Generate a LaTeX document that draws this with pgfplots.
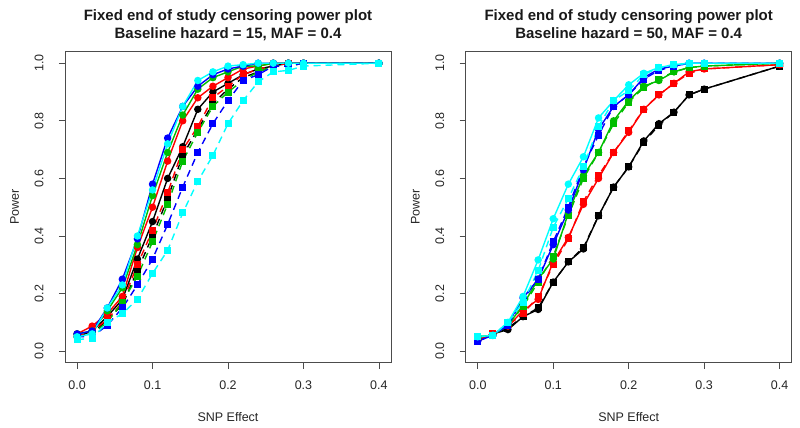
\documentclass[border=0pt]{standalone}
\usepackage{fontspec}
\setmainfont{Liberation Sans}
\usepackage{pgfplots}
\usepackage{pgfplotstable}
\pgfplotsset{compat=1.18}
\definecolor{rgreen}{RGB}{0,190,0}
\definecolor{rblue}{RGB}{0,0,255}
\definecolor{rcyan}{RGB}{0,255,255}
\definecolor{rred}{RGB}{255,0,0}

\pgfplotstableread{
x    ks    kd    rs    rd    gs    gd    bs    bd    cs    cd
0    0.05  0.05  0.06  0.05  0.06  0.05  0.06  0.05  0.05  0.04
0.02 0.07  0.06  0.087 0.07  0.07  0.06  0.07  0.05  0.06  0.045
0.04 0.12  0.11  0.13  0.11  0.14  0.10  0.15  0.09  0.15  0.10
0.06 0.18  0.16  0.19  0.17  0.22  0.17  0.25  0.15  0.23  0.13
0.08 0.32  0.28  0.36  0.30  0.37  0.26  0.39  0.23  0.40  0.18
0.10 0.45  0.40  0.50  0.42  0.54  0.38  0.58  0.32  0.56  0.27
0.12 0.60  0.53  0.66  0.55  0.69  0.51  0.74  0.44  0.72  0.35
0.14 0.71  0.68  0.80  0.70  0.82  0.66  0.85  0.57  0.85  0.48
0.16 0.84  0.77  0.88  0.78  0.91  0.76  0.92  0.69  0.94  0.59
0.18 0.90  0.86  0.92  0.88  0.95  0.85  0.96  0.79  0.97  0.68
0.20 0.93  0.91  0.95  0.92  0.97  0.90  0.98  0.87  0.99  0.79
0.22 0.96  0.95  0.98  0.96  0.99  0.94  0.99  0.94  0.995 0.87
0.24 0.98  0.97  0.99  0.98  0.99  0.97  1     0.96  1     0.935
0.26 0.99  0.99  1     0.99  1     0.99  1     0.99  1     0.97
0.28 1     1     1     1     1     0.99  1     0.99  1     0.975
0.30 1     1     1     1     1     1     1     1     1     0.99
0.40 1     1     1     1     1     1     1     1     1     1
}\lefttab

\pgfplotstableread{
x    ks    kd    rs    rd    gs    gd    bs    bd    cs    cd
0    0.04  0.04  0.04  0.04  0.05  0.05  0.035 0.035 0.05  0.05
0.02 0.06  0.06  0.06  0.06  0.055 0.055 0.055 0.055 0.055 0.055
0.04 0.075 0.08  0.087 0.09  0.09  0.09  0.095 0.09  0.10  0.10
0.06 0.12  0.12  0.14  0.13  0.16  0.155 0.185 0.18  0.19  0.17
0.08 0.145 0.15  0.18  0.19  0.25  0.24  0.25  0.25  0.317 0.28
0.10 0.24  0.24  0.31  0.30  0.32  0.33  0.37  0.38  0.46  0.43
0.12 0.31  0.31  0.395 0.39  0.48  0.47  0.49  0.50  0.58  0.53
0.14 0.355 0.36  0.51  0.52  0.61  0.60  0.63  0.64  0.675 0.64
0.16 0.47  0.47  0.60  0.61  0.69  0.69  0.77  0.75  0.81  0.78
0.18 0.57  0.57  0.69  0.69  0.80  0.79  0.85  0.85  0.87  0.87
0.20 0.64  0.64  0.76  0.765 0.87  0.865 0.89  0.89  0.925 0.905
0.22 0.73  0.725 0.84  0.84  0.92  0.915 0.95  0.945 0.965 0.96
0.24 0.79  0.785 0.89  0.89  0.94  0.945 0.98  0.975 0.985 0.985
0.26 0.83  0.83  0.93  0.93  0.97  0.97  0.99  0.99  0.995 0.995
0.28 0.89  0.89  0.97  0.965 0.985 0.985 1     1     1     1
0.30 0.91  0.91  0.98  0.98  0.99  0.99  1     1     1     1
0.40 0.99  0.99  0.995 0.995 1     1     1     1     1     1
}\righttab

\pgfplotsset{
  rpanel/.style={
    scale only axis, width=326pt, height=311pt,
    xmin=-0.016, xmax=0.416, ymin=-0.04, ymax=1.04,
    xtick={0,0.1,0.2,0.3,0.4}, ytick={0,0.2,0.4,0.6,0.8,1.0},
    tick align=outside, major tick length=6pt,
    xtick pos=bottom, ytick pos=left,
    axis line style={black!70, line width=0.8pt},
    every tick/.style={black!70, line width=0.8pt},
    /pgf/number format/.cd, fixed, fixed zerofill, precision=1, assume math mode=true,
    /pgfplots/.cd,
    ticklabel style={font=\fontsize{12.5}{14}\selectfont, text=black!85},
    xticklabel style={yshift=-9pt},
    yticklabel style={rotate=90, anchor=south, yshift=12pt},
    xlabel={SNP Effect}, ylabel={Power},
    label style={font=\fontsize{12.5}{14}\selectfont, text=black!85},
    xlabel style={at={(0.5,0)}, anchor=base, yshift=-59pt},
    ylabel style={at={(0,0.5)}, anchor=base, rotate=0, xshift=0pt, yshift=46pt},
    title style={font=\bfseries\fontsize{15}{17.5}\selectfont, align=center, anchor=south, inner sep=0pt, yshift=5pt, text=black!90},
    clip=false,
  },
  sol/.style={solid, line width=1.4pt, mark=*, mark size=3pt, mark options={solid}},
  das/.style={dash pattern=on 7pt off 5pt, line width=1.4pt, mark=square*, mark size=2.8pt, mark options={solid}},
}

\begin{document}
\begin{tikzpicture}
\useasboundingbox (0pt,0pt) rectangle (800pt,428pt);
\begin{axis}[rpanel, at={(65pt,65.3pt)}, anchor=south west,
  title={Fixed end of study censoring power plot\\Baseline hazard = 15, MAF = 0.4}]
\addplot[sol, black] table[x=x,y=ks]{\lefttab};
\addplot[das, black] table[x=x,y=kd]{\lefttab};
\addplot[sol, rred] table[x=x,y=rs]{\lefttab};
\addplot[das, rred] table[x=x,y=rd]{\lefttab};
\addplot[sol, rgreen] table[x=x,y=gs]{\lefttab};
\addplot[das, rgreen] table[x=x,y=gd]{\lefttab};
\addplot[sol, rblue] table[x=x,y=bs]{\lefttab};
\addplot[das, rblue] table[x=x,y=bd]{\lefttab};
\addplot[sol, rcyan] table[x=x,y=cs]{\lefttab};
\addplot[das, rcyan] table[x=x,y=cd]{\lefttab};
\end{axis}
\begin{axis}[rpanel, at={(465.7pt,65.3pt)}, anchor=south west,
  title={Fixed end of study censoring power plot\\Baseline hazard = 50, MAF = 0.4}]
\addplot[sol, black] table[x=x,y=ks]{\righttab};
\addplot[das, black] table[x=x,y=kd]{\righttab};
\addplot[sol, rred] table[x=x,y=rs]{\righttab};
\addplot[das, rred] table[x=x,y=rd]{\righttab};
\addplot[sol, rgreen] table[x=x,y=gs]{\righttab};
\addplot[das, rgreen] table[x=x,y=gd]{\righttab};
\addplot[sol, rblue] table[x=x,y=bs]{\righttab};
\addplot[das, rblue] table[x=x,y=bd]{\righttab};
\addplot[sol, rcyan] table[x=x,y=cs]{\righttab};
\addplot[das, rcyan] table[x=x,y=cd]{\righttab};
\end{axis}
\end{tikzpicture}
\end{document}
